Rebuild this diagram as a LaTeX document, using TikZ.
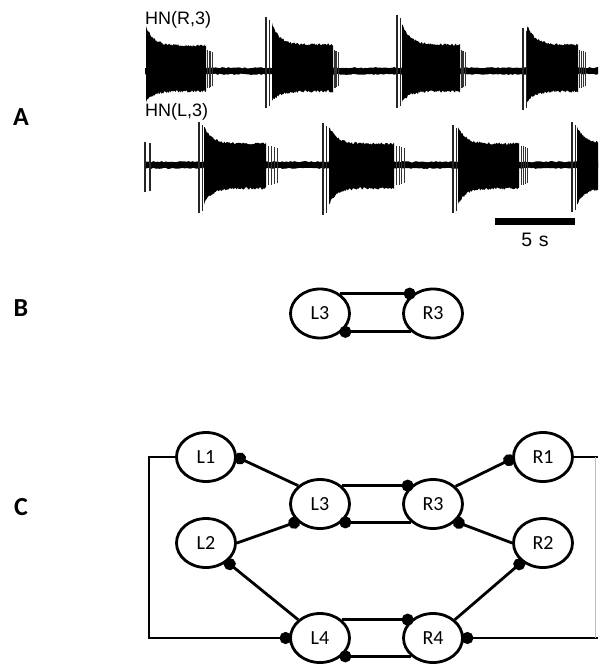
\documentclass[tikz,border=0pt]{standalone}
\usepackage{fontspec}
\setmainfont{Carlito}
\newfontfamily\arialf{Liberation Sans}
\usetikzlibrary{shapes.geometric,arrows.meta}
% burst: x0 x1 base uppeak upplat dnpeak dnplat
\newcommand\hnburst[7]{%
  \fill[black] plot[domain=#1:#2, samples=70] (\x,{#3-(#5+(#4-#5)*exp(-(\x-#1)/8))-2.5*rnd})
    -- plot[domain=#2:#1, samples=70] (\x,{#3+(#7+(#6-#7)*exp(-(\x-#1)/8))+2.5*rnd}) -- cycle;}
% tail: x1 base up dn len
\newcommand\hntail[5]{%
  \foreach \k/\f in {0.25/0.97,0.5/0.93,0.75/0.9,1.0/0.85}{%
    \draw[line width=0.8pt, black!80] ({#1+#5*\k},{#2-#3*\f}) -- ({#1+#5*\k},{#2+#4*\f});}}
% spike pair: x top bottom
\newcommand\hnspike[3]{%
  \draw[line width=1.1pt, black!85] (#1,#2) -- (#1,#3);
  \draw[line width=1.1pt, black!85] ({#1+3.2},{#2+3}) -- ({#1+3.2},{#3-2});}
% baseline band
\newcommand\hnbase[1]{%
  \fill[black] plot[domain=145:600, samples=220] (\x,{#1-2.6-1.3*rnd})
    -- plot[domain=600:145, samples=220] (\x,{#1+2.6+1.3*rnd}) -- cycle;}
\begin{document}
\begin{tikzpicture}[x=1pt,y=-1pt,
  neuron/.style={ellipse, draw, line width=2.8pt, minimum width=59pt, minimum height=49pt,
    inner sep=0pt, font=\fontsize{20}{22}\selectfont},
  conn/.style={line width=2.8pt},
  inh/.style={conn, -{Circle[length=12pt,width=12pt]}, shorten >=-2.5pt},
  inhs/.style={conn, {Circle[length=12pt,width=12pt]}-, shorten <=-2.5pt},
  panel/.style={font=\fontsize{26}{30}\selectfont\bfseries, inner sep=0pt},
  hnlab/.style={font=\arialf\fontsize{18}{20}\selectfont, inner sep=0pt, anchor=base west}]
\useasboundingbox (0,0) rectangle (598,666);
\fill[white] (0,0) rectangle (598,666);

% panel letters
\node[panel] (pA) at (21,117) {A};
\node[panel] (pB) at (21,308) {B};
\node[panel] (pC) at (21,507) {C};

% ---------- panel A : recordings ----------
\pgfmathsetseed{4711}
\begin{scope}
\clip (140,0) rectangle (598,260);
% HN(R,3)
\hnbase{71}
\hnburst{146}{206}{71}{43}{24}{29}{19}\hntail{206}{71}{22}{18}{6}
\hnspike{266}{17}{108}
\hnburst{272}{333}{71}{46}{25}{29}{19}\hntail{333}{71}{22}{18}{5}
\hnspike{397}{15}{108}
\hnburst{402}{460}{71}{46}{25}{29}{19}\hntail{460}{71}{22}{18}{5}
\hnspike{523}{28}{110}
\hnburst{527}{578}{71}{45}{25}{29}{19}\hntail{578}{71}{22}{18}{7}
% HN(L,3)
\hnbase{165}
\draw[line width=1.1pt, black!85] (145,142) -- (145,192);
\draw[line width=1.1pt, black!85] (150,143) -- (150,191);
\hnspike{199}{122}{213}
\hnburst{204}{266}{165}{37}{20}{38}{22}\hntail{266}{165}{20}{21}{11}
\hnspike{323}{123}{215}
\hnburst{329}{394}{165}{37}{20}{38}{22}\hntail{394}{165}{20}{21}{10}
\hnspike{453}{125}{213}
\hnburst{458}{519}{165}{37}{20}{38}{22}\hntail{519}{165}{20}{21}{8}
\hnspike{572}{122}{212}
\hnburst{577}{612}{165}{37}{20}{38}{22}
\end{scope}
\node[hnlab] (hnR) at (145,25) {HN(R,3)};
\node[hnlab] (hnL) at (145,117) {HN(L,3)};
% scale bar
\fill[black] (495,218) rectangle (575,224.5);
\node[font=\arialf\fontsize{19.5}{22}\selectfont, anchor=base, inner sep=0pt] (sbl) at (535,246.5) {5\,\,s};

% ---------- panel B ----------
\node[neuron] (bL3) at (320,313.5) {L3};
\node[neuron] (bR3) at (433,313.5) {R3};
\draw[inh]  (bL3.45) -- (bR3.135);
\draw[inhs] (bL3.-40) -- (bR3.-140);

% ---------- panel C ----------
\node[neuron] (L1) at (206,457) {L1};
\node[neuron] (L2) at (206,543) {L2};
\node[neuron] (L3) at (320,504) {L3};
\node[neuron] (R3) at (433,504) {R3};
\node[neuron] (R1) at (543,457) {R1};
\node[neuron] (R2) at (543,543) {R2};
\node[neuron] (L4) at (320,638) {L4};
\node[neuron] (R4) at (433,638) {R4};
\coordinate (lrT) at (149,457);
\coordinate (lrB) at (149,638);
\coordinate (rE1) at (598,457);
\coordinate (rE4) at (598,638);
\coordinate (rV1) at (595.5,457);
\coordinate (rV4) at (595.5,638);

\draw[inhs] (L1.east) -- (L3.140);
\draw[inh]  (L2.east) -- (L3.218);
\draw[inh]  (L3.40) -- (R3.140);
\draw[inhs] (L3.-40) -- (R3.-140);
\draw[inh]  (R3.38) -- (R1.183);
\draw[inhs] (R3.-38) -- (R2.west);
\draw[inhs] (L2.-42) -- (L4.140);
\draw[inh]  (R4.40) -- (R2.222);
\draw[inh]  (L4.40) -- (R4.140);
\draw[inhs] (L4.-40) -- (R4.-140);
\draw[inh]  (L1.west) -- (lrT) -- (lrB) -- (L4.west);
\draw[inhs] (R4.east) -- (rE4);
\draw[conn] (R1.east) -- (rE1);
\draw[line width=0.6pt, black!25] (rV1) -- (rV4);
\end{tikzpicture}
\end{document}
